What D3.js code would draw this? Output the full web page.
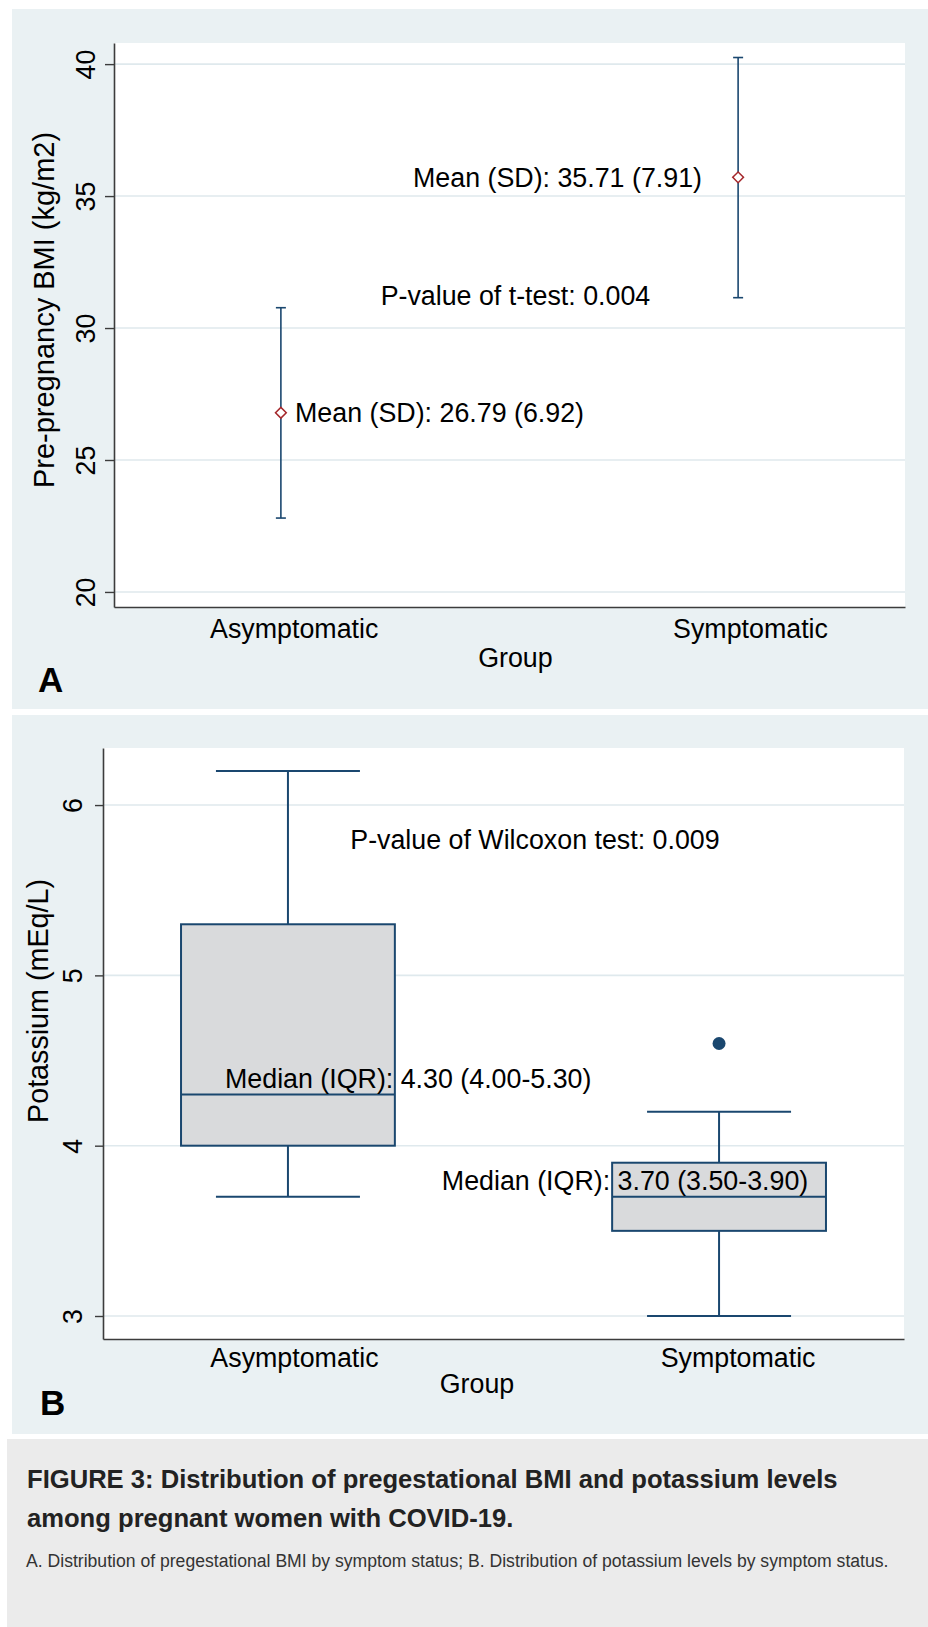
<!DOCTYPE html>
<html>
<head>
<meta charset="utf-8">
<script src="https://cdn.jsdelivr.net/npm/d3@7"></script>
<style>
body { margin: 0; background: #fff; }
svg { display: block; font-family: "Liberation Sans", Arial, sans-serif; }
</style>
</head>
<body>
<div id="chart"></div>
<script>
// ---- data ----
const groups = ['Asymptomatic', 'Symptomatic'];

// A: pre-pregnancy BMI, mean with interval
const bmiMean = [26.79, 35.71];
const bmiSD = [6.92, 7.91];
const bmiLower = [22.8, 31.15];
const bmiUpper = [30.77, 40.25];
const bmiTicks = [20, 25, 30, 35, 40];
const bmiPValue = 'P-value of t-test: 0.004';

// B: potassium, box plot
const kWhiskerLow = [3.7, 3.0];
const kQ1 = [4.0, 3.5];
const kMedian = [4.3, 3.7];
const kQ3 = [5.3, 3.9];
const kWhiskerHigh = [6.2, 4.2];
const kOutliers = [[], [4.6]];
const kTicks = [3, 4, 5, 6];
const kPValue = 'P-value of Wilcoxon test: 0.009';

const captionTitle = ['FIGURE 3: Distribution of pregestational BMI and potassium levels',
	'among pregnant women with COVID-19.'];
const captionText = 'A. Distribution of pregestational BMI by symptom status; B. Distribution of potassium levels by symptom status.';

// ---- style ----
const W = 928, H = 1627;
const BG = '#eaf1f3', GRID = '#dfe9ed', NAVY = '#1a476f', MAROON = '#a5282c', AXIS = '#3c3c3c';
const FS = 26.8;

const svg = d3.select('#chart').append('svg').attr('width', W).attr('height', H);
svg.append('rect').attr('width', W).attr('height', H).attr('fill', '#fff');

function styleAxis(ax) {
	ax.select('.domain').attr('stroke', AXIS).attr('stroke-width', 1.6);
	ax.selectAll('.tick line').attr('stroke', AXIS).attr('stroke-width', 1.4);
	ax.selectAll('.tick text').attr('fill', '#000').style('font-size', FS + 'px');
	ax.attr('font-family', null).attr('font-size', null);
}

function rotateTicks(ax, shift) {
	ax.selectAll('.tick text').attr('x', 0).attr('y', 0).attr('dy', 0)
		.attr('text-anchor', 'middle')
		.attr('transform', `translate(${shift},0) rotate(-90)`);
}

function addText(g, x, y, txt, anchor) {
	return g.append('text').attr('x', x).attr('y', y).attr('text-anchor', anchor || 'start')
		.attr('fill', '#000').style('font-size', FS + 'px').text(txt);
}

// ================= Panel A =================
const pa = {x0: 114, x1: 905, y0: 43, y1: 607};
const gA = svg.append('g');
gA.append('rect').attr('x', 12).attr('y', 9).attr('width', 916).attr('height', 700).attr('fill', BG);
gA.append('rect').attr('x', pa.x0).attr('y', pa.y0).attr('width', pa.x1 - pa.x0).attr('height', pa.y1 - pa.y0).attr('fill', '#fff');

// groups sit at 1 and 2 on the category axis
const xA = d3.scaleLinear().domain([0.635, 2.365]).range([pa.x0, pa.x1]);
const yA = d3.scaleLinear().domain([19.43, 40.8]).range([pa.y1, pa.y0]);

gA.selectAll('line.grid').data(bmiTicks).enter().append('line').attr('class', 'grid')
	.attr('x1', pa.x0).attr('x2', pa.x1)
	.attr('y1', d => yA(d)).attr('y2', d => yA(d))
	.attr('stroke', GRID).attr('stroke-width', 1.6);

const axAy = gA.append('g').attr('transform', `translate(${pa.x0},0)`)
	.call(d3.axisLeft(yA).tickValues(bmiTicks).tickFormat(d3.format('d')).tickSize(9).tickSizeOuter(0));
styleAxis(axAy);
rotateTicks(axAy, -19);

const axAx = gA.append('g').attr('transform', `translate(0,${pa.y1})`)
	.call(d3.axisBottom(xA).tickValues([1.028, 2.026]).tickFormat((d, i) => groups[i])
		.tickSize(0).tickPadding(12).tickSizeOuter(0));
styleAxis(axAx);

// error bars
const bars = gA.selectAll('g.bar').data(groups).enter().append('g').attr('class', 'bar');
bars.each(function (d, i) {
	let g = d3.select(this);
	let cx = xA(i + 1);
	g.append('line').attr('x1', cx).attr('x2', cx).attr('y1', yA(bmiLower[i])).attr('y2', yA(bmiUpper[i]))
		.attr('stroke', NAVY).attr('stroke-width', 1.6);
	[bmiLower[i], bmiUpper[i]].forEach(v => {
		g.append('line').attr('x1', cx - 5).attr('x2', cx + 5).attr('y1', yA(v)).attr('y2', yA(v))
			.attr('stroke', NAVY).attr('stroke-width', 1.6);
	});
	g.append('path').attr('d', d3.symbol(d3.symbolSquare, 58)())
		.attr('transform', `translate(${cx},${yA(bmiMean[i])}) rotate(45)`)
		.attr('fill', '#fff').attr('stroke', MAROON).attr('stroke-width', 1.5);
});

const meanLabelX = [1.031, 1.921];
const meanLabelAnchor = ['start', 'end'];
groups.forEach((d, i) => {
	addText(gA, xA(meanLabelX[i]), yA(bmiMean[i]),
		`Mean (SD): ${bmiMean[i].toFixed(2)} (${bmiSD[i].toFixed(2)})`, meanLabelAnchor[i]).attr('dy', '0.36em');
});
addText(gA, xA(1.513), yA(31.24), bmiPValue, 'middle').attr('dy', '0.36em');

addText(gA, xA(1.513), 667, 'Group', 'middle');
addText(gA, 0, 0, 'Pre-pregnancy BMI (kg/m2)', 'middle').style('font-size', '29px')
	.attr('transform', 'translate(54,310) rotate(-90)');
gA.append('text').attr('x', 38).attr('y', 692).attr('font-weight', 'bold').style('font-size', '35px').text('A');

// ================= Panel B =================
const pb = {x0: 103, x1: 904, y0: 748, y1: 1339};
const gB = svg.append('g');
gB.append('rect').attr('x', 12).attr('y', 715).attr('width', 916).attr('height', 719).attr('fill', BG);
gB.append('rect').attr('x', pb.x0).attr('y', pb.y0).attr('width', pb.x1 - pb.x0).attr('height', pb.y1 - pb.y0).attr('fill', '#fff');

const xB = d3.scaleLinear().domain([0.571, 2.429]).range([pb.x0, pb.x1]);
const yB = d3.scaleLinear().domain([2.865, 6.335]).range([pb.y1, pb.y0]);

gB.selectAll('line.grid').data(kTicks).enter().append('line').attr('class', 'grid')
	.attr('x1', pb.x0).attr('x2', pb.x1)
	.attr('y1', d => yB(d)).attr('y2', d => yB(d))
	.attr('stroke', GRID).attr('stroke-width', 1.6);

const axBy = gB.append('g').attr('transform', `translate(${pb.x0},0)`)
	.call(d3.axisLeft(yB).tickValues(kTicks).tickFormat(d3.format('d')).tickSize(8).tickSizeOuter(0));
styleAxis(axBy);
rotateTicks(axBy, -21);

const axBx = gB.append('g').attr('transform', `translate(0,${pb.y1})`)
	.call(d3.axisBottom(xB).tickValues([1.014, 2.043]).tickFormat((d, i) => groups[i])
		.tickSize(0).tickPadding(9).tickSizeOuter(0));
styleAxis(axBx);

const boxHalf = 0.248, capHalf = 0.167;
const boxes = gB.selectAll('g.box').data(groups).enter().append('g').attr('class', 'box');
boxes.each(function (d, i) {
	let g = d3.select(this);
	let c = i + 1;
	// whiskers
	g.append('line').attr('x1', xB(c)).attr('x2', xB(c)).attr('y1', yB(kQ3[i])).attr('y2', yB(kWhiskerHigh[i]))
		.attr('stroke', NAVY).attr('stroke-width', 2);
	g.append('line').attr('x1', xB(c)).attr('x2', xB(c)).attr('y1', yB(kQ1[i])).attr('y2', yB(kWhiskerLow[i]))
		.attr('stroke', NAVY).attr('stroke-width', 2);
	[kWhiskerLow[i], kWhiskerHigh[i]].forEach(v => {
		g.append('line').attr('x1', xB(c - capHalf)).attr('x2', xB(c + capHalf)).attr('y1', yB(v)).attr('y2', yB(v))
			.attr('stroke', NAVY).attr('stroke-width', 2);
	});
	g.append('rect').attr('x', xB(c - boxHalf)).attr('y', yB(kQ3[i]))
		.attr('width', xB(c + boxHalf) - xB(c - boxHalf)).attr('height', yB(kQ1[i]) - yB(kQ3[i]))
		.attr('fill', '#d9dadc').attr('stroke', NAVY).attr('stroke-width', 2);
	g.append('line').attr('x1', xB(c - boxHalf)).attr('x2', xB(c + boxHalf)).attr('y1', yB(kMedian[i])).attr('y2', yB(kMedian[i]))
		.attr('stroke', NAVY).attr('stroke-width', 2);
	g.selectAll('circle').data(kOutliers[i]).enter().append('circle')
		.attr('cx', xB(c)).attr('cy', v => yB(v)).attr('r', 6.5).attr('fill', NAVY);
});

const medLabelX = [0.854, 1.357];
groups.forEach((d, i) => {
	addText(gB, xB(medLabelX[i]), yB(kMedian[i]),
		`Median (IQR): ${kMedian[i].toFixed(2)} (${kQ1[i].toFixed(2)}-${kQ3[i].toFixed(2)})`).attr('dy', '-0.26em');
});
addText(gB, xB(1.573), yB(5.8), kPValue, 'middle').attr('dy', '0.36em');

addText(gB, xB(1.4385), 1393, 'Group', 'middle');
addText(gB, 0, 0, 'Potassium (mEq/L)', 'middle').style('font-size', '28.7px')
	.attr('transform', 'translate(48,1001) rotate(-90)');
gB.append('text').attr('x', 40).attr('y', 1415).attr('font-weight', 'bold').style('font-size', '35px').text('B');

// ================= caption =================
const gC = svg.append('g');
gC.append('rect').attr('x', 7).attr('y', 1439).attr('width', W - 7).attr('height', H - 1439).attr('fill', '#ebebeb');
gC.selectAll('text.title').data(captionTitle).enter().append('text').attr('class', 'title')
	.attr('x', 27).attr('y', (d, i) => 1488 + i * 39)
	.attr('font-weight', 'bold').attr('fill', '#222').style('font-size', '25.6px').text(d => d);
gC.append('text').attr('x', 26).attr('y', 1567).attr('fill', '#333').style('font-size', '17.6px').text(captionText);
</script>
</body>
</html>
